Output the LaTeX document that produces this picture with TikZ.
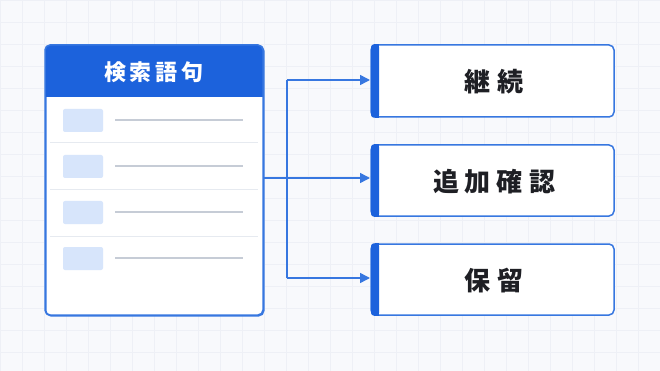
\documentclass[tikz,border=0pt]{standalone}
\usepackage{fontspec}
\newfontfamily\cjk{Noto Sans CJK JP}
\usetikzlibrary{arrows.meta}
\definecolor{bg}{HTML}{F8F9FC}
\definecolor{gridc}{HTML}{EEF0F6}
\definecolor{hdr}{HTML}{1C62DC}
\definecolor{bord}{HTML}{3777E0}
\definecolor{ph}{HTML}{D7E5FB}
\definecolor{lin}{HTML}{C6CCD6}
\definecolor{sep}{HTML}{E6EAF0}
\definecolor{txt}{HTML}{1E1F24}
\tikzset{
  conn/.style={draw=bord, line width=1.5pt},
  arr/.style={conn, -{Triangle[length=10pt,width=10pt]}},
  optbox/.style={draw=bord, line width=1.5pt, fill=white, rounded corners=5pt},
  lbl/.style={font=\cjk\bfseries\fontsize{26}{28}\selectfont, text=txt, inner sep=0pt},
}
\begin{document}
\begin{tikzpicture}[x=1pt,y=-1pt]
\fill[bg] (0,0) rectangle (660,371);
\useasboundingbox (0,0) rectangle (660,371);
\foreach \i in {0,22,...,660} \draw[gridc, line width=0.6pt] (\i,0) -- (\i,371);
\foreach \j in {0,22,...,371} \draw[gridc, line width=0.6pt] (0,\j) -- (660,\j);
% left panel
\node[draw=bord, line width=1.5pt, fill=white, rounded corners=5pt, minimum width=218pt, minimum height=270pt, anchor=north west, inner sep=0pt] (panel) at (45,45) {};
\fill[hdr, rounded corners=5pt] (45,97) -- (45,45) -- (263,45) -- (263,97) -- cycle;
\fill[hdr] (45,80) rectangle (263,97);
\draw[bord, line width=1.5pt, rounded corners=5pt] (45,45) rectangle (263,315);
\node[font=\cjk\bfseries\fontsize{22}{24}\selectfont, text=white, inner sep=0pt] (hdrtxt) at (154,72) {検\hspace{4pt}索\hspace{4pt}語\hspace{4pt}句};
\foreach \k/\y in {1/120,2/166,3/212,4/258} {
  \fill[ph, rounded corners=2pt] (63,\y-11) rectangle (103,\y+12);
  \draw[lin, line width=2pt] (115,\y) -- (243,\y);
}
\foreach \y in {143,190,236} \draw[sep, line width=1pt] (50,\y) -- (258,\y);
% right boxes
\foreach \n/\t/\b in {b1/45/117,b2/145/216,b3/244/315} {
  \draw[optbox] (371,\t) rectangle (614,\b);
  \fill[hdr, rounded corners=3pt] (371,\t-0.75) rectangle (379,\b+0.75);
  \fill[hdr] (375,\t-0.75) rectangle (379,\b+0.75);
  \coordinate (\n) at (371,{(\t+\b)/2});
}
\node[lbl] (t1) at (494,82) {継\hspace{7pt}続};
\node[lbl] (t2) at (494,182) {追\hspace{6pt}加\hspace{6pt}確\hspace{6pt}認};
\node[lbl] (t3) at (494,281) {保\hspace{7pt}留};
% connectors
\coordinate (src) at (263,178);
\coordinate (jn) at (287,178);
\coordinate (a1) at (370,80);
\coordinate (a2) at (370,178);
\coordinate (a3) at (370,278);
\draw[conn] (src) -- (jn);
\draw[conn] (287,80) -- (287,278);
\draw[arr] (287,80) -- (a1);
\draw[arr] (jn) -- (a2);
\draw[arr] (287,278) -- (a3);
\end{tikzpicture}
\end{document}
